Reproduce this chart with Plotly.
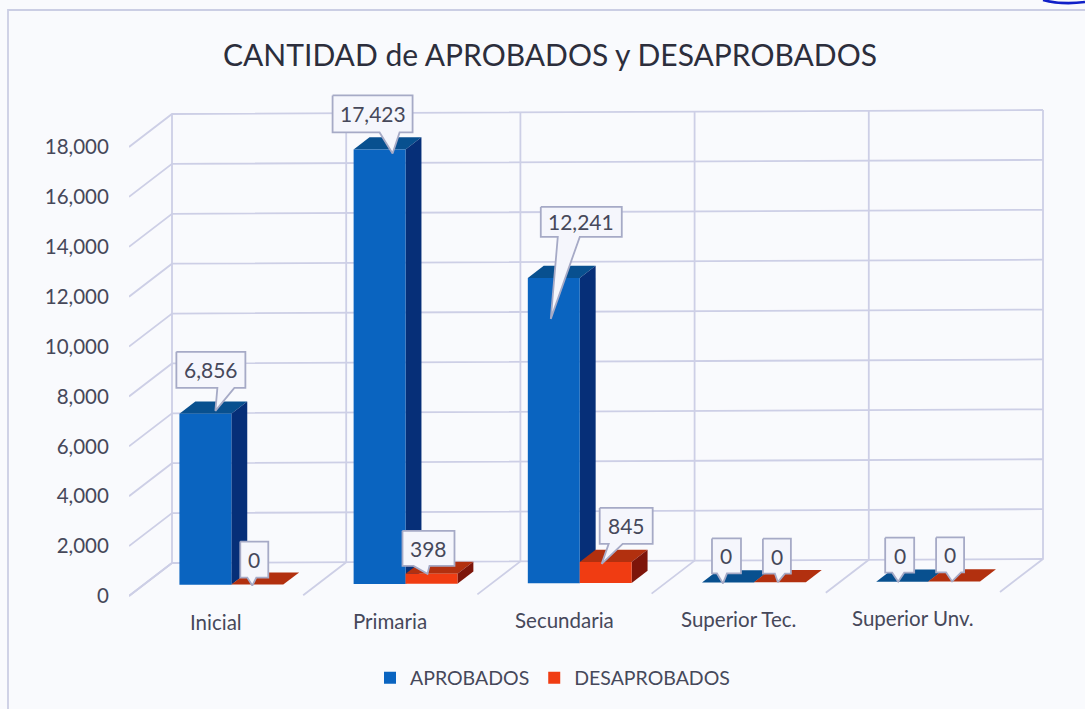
import plotly.graph_objects as go

title_text = "CANTIDAD de APROBADOS y DESAPROBADOS"
categories = ["Inicial", "Primaria", "Secundaria", "Superior Tec.", "Superior Unv."]
aprobados = [6856, 17423, 12241, 0, 0]
desaprobados = [0, 398, 845, 0, 0]
y_ticks = [0, 2000, 4000, 6000, 8000, 10000, 12000, 14000, 16000, 18000]

# --- scale of the plot ---
W, H = 1085, 709
PX_LEFT, PX_RIGHT = 129, 1060
PX_TOP, PX_BOTTOM = 90, 640
PX_PER_CAT = 174.2
UNITS_PER_PX = 18000 / 449
Y0_PX = 596
DEPTH_X = 43 / PX_PER_CAT
DEPTH_Y = 33 * UNITS_PER_PX
TILT = 32          # scan rotation, value units per category
BAR_W = 0.298
GAP = 0.208
D0, D1 = 0.33, 0.70

FONT = "Lato"
TXT = "#46485a"
GRID = "#cdcfe6"
BG = "#f9fafd"
C_FRONT = ["#0a64c0", "#f03c12"]
C_TOP = ["#08508f", "#b2300f"]
C_SIDE = ["#062f78", "#7d150a"]


def xp(px):
    return (px - PX_LEFT) / (PX_RIGHT - PX_LEFT)


def yp(py):
    return (PX_BOTTOM - py) / (PX_BOTTOM - PX_TOP)


def pt(u, v, d=0.0):
    """Category position u, value v, depth d -> axis coordinates."""
    return u + d * DEPTH_X, v + d * DEPTH_Y + u * TILT


def poly(points, color, z, line=None, width=0):
    xs = [p[0] for p in points] + [points[0][0]]
    ys = [p[1] for p in points] + [points[0][1]]
    return go.Scatter(x=xs, y=ys, mode="lines", fill="toself", fillcolor=color,
                      line=dict(color=line or color, width=width if line else 0),
                      showlegend=False, hoverinfo="skip", zorder=z)


fig = go.Figure()

# walls and floor
for v in y_ticks:
    a, b, c = pt(0, v, 0), pt(0, v, 1), pt(5, v, 1)
    fig.add_trace(go.Scatter(x=[a[0], b[0], c[0]], y=[a[1], b[1], c[1]], mode="lines",
                             line=dict(color=GRID, width=1.8), showlegend=False,
                             hoverinfo="skip", zorder=0))
for k in range(6):
    pts = [pt(k, 18000, 1), pt(k, 0, 1), pt(k, 0, 0)]
    fig.add_trace(go.Scatter(x=[p[0] for p in pts], y=[p[1] for p in pts], mode="lines",
                             line=dict(color=GRID, width=1.8), showlegend=False,
                             hoverinfo="skip", zorder=0))

series = [("APROBADOS", aprobados), ("DESAPROBADOS", desaprobados)]
anchors = []
for s, (name, vals) in enumerate(series):
    xs, bases = [], []
    for k, v in enumerate(vals):
        u0 = k + GAP + s * BAR_W
        u1 = u0 + BAR_W
        um = (u0 + u1) / 2
        fx, fy0 = pt(um, 0, D0)
        xs.append(fx)
        bases.append(fy0)

        def lvl(u, val, d):
            return (u + d * DEPTH_X, fy0 + val + (d - D0) * DEPTH_Y)

        fig.add_trace(poly([lvl(u0, v, D0), lvl(u1, v, D0), lvl(u1, v, D1), lvl(u0, v, D1)],
                           C_TOP[s], 1 + 2 * s))
        if v > 0:
            fig.add_trace(poly([lvl(u1, 0, D0), lvl(u1, v, D0), lvl(u1, v, D1), lvl(u1, 0, D1)],
                               C_SIDE[s], 1 + 2 * s))
        anchors.append((fx, fy0 + v, v))
    fig.add_trace(go.Bar(x=xs, y=vals, base=bases, width=BAR_W, name=name,
                         marker=dict(color=C_FRONT[s], line=dict(width=0)),
                         hoverinfo="skip", zorder=2 + 2 * s))

# data-label callouts: box left, right, top, bottom, tip dx, dy, wedge left, wedge width (px from bar top)
callouts = [
    (-29, 40, -62, -26, 10, -3, 12, 17),
    (-17, 11, -43, -7, -5, 1, -10, 9),
    (-47, 33, -54, -17, 13, 4, 0, 20),
    (-29, 23, -43, -8, -4, 0, -18, 16),
    (-13, 68, -71, -41, -3, 41, 4, 22),
    (-6, 47, -54, -18, -4, 2, 3, 14),
    (-16, 13, -44, -9, -5, 1, -11, 10),
    (-17, 11, -43.5, -8.5, -2, 0, -5, 10),
    (-17, 12, -44, -9, -4, 0, -10, 12),
    (-18, 10, -44, -9, -2, 0, -8, 15),
]
# anchors are stored series by series; reorder to category, series
order = [i for k in range(5) for i in (k, k + 5)]
annots = []
for idx, c in zip(order, callouts):
    ax, ay, v = anchors[idx]
    L, R, T, B, tx, ty, wl, ww = c
    X = lambda p: ax + p / PX_PER_CAT
    Y = lambda p: ay - p * UNITS_PER_PX
    shape = [(X(L), Y(T)), (X(R), Y(T)), (X(R), Y(B)), (X(wl + ww), Y(B)),
             (X(tx), Y(ty)), (X(wl), Y(B)), (X(L), Y(B))]
    fig.add_trace(poly(shape, "#f5f6fc", 6, line="#a6aac6", width=1.8))
    annots.append(dict(x=X((L + R) / 2), y=Y((T + B) / 2), text=f"{v:,}", showarrow=False,
                       font=dict(family=FONT, size=21, color=TXT), xref="x", yref="y"))

# category labels
for k, name in enumerate(categories):
    annots.append(dict(x=k + 0.5, y=pt(k + 0.5, -26 * UNITS_PER_PX)[1], text=name, showarrow=False,
                       font=dict(family=FONT, size=20.5, color=TXT), xref="x", yref="y"))

fig.update_layout(
    width=W, height=H, autosize=False,
    margin=dict(l=PX_LEFT, r=W - PX_RIGHT, t=PX_TOP, b=H - PX_BOTTOM, pad=0),
    paper_bgcolor=BG, plot_bgcolor="rgba(0,0,0,0)",
    barmode="overlay",
    title=dict(text=title_text, x=550 / W, xanchor="center", y=1 - 55 / H, yanchor="middle",
               font=dict(family=FONT, size=30, color="#2c2e3c")),
    xaxis=dict(range=[0, (PX_RIGHT - PX_LEFT) / PX_PER_CAT], showgrid=False, zeroline=False,
               showticklabels=False, ticks="", fixedrange=True),
    yaxis=dict(range=[(Y0_PX - PX_BOTTOM) * UNITS_PER_PX, (Y0_PX - PX_TOP) * UNITS_PER_PX],
               tickvals=y_ticks, tickformat=",", showgrid=False, zeroline=False,
               ticks="outside", ticklen=15, tickcolor="rgba(0,0,0,0)",
               tickfont=dict(family=FONT, size=20.5, color=TXT), fixedrange=True),
    legend=dict(orientation="h", x=xp(370), xanchor="left", y=yp(678), yanchor="middle",
                font=dict(family=FONT, size=19.5, color=TXT), bgcolor="rgba(0,0,0,0)",
                traceorder="normal", itemclick=False, itemdoubleclick=False),
    annotations=annots,
    shapes=[
        dict(type="path", xref="paper", yref="paper", layer="below",
             path=f"M {xp(8)} {yp(709)} L {xp(8)} {yp(10)} L {xp(1085)} {yp(10)}",
             line=dict(color="#cbcee4", width=1.8)),
        dict(type="path", xref="paper", yref="paper", layer="above",
             path=f"M {xp(1043)} {yp(0)} Q {xp(1062)} {yp(5)} {xp(1085)} {yp(2)}",
             line=dict(color="#1020c8", width=2.5)),
    ],
)

fig.write_html("out.html", post_script="document.body.style.margin='0';document.body.style.overflow='hidden';",
               config={"displayModeBar": False})
